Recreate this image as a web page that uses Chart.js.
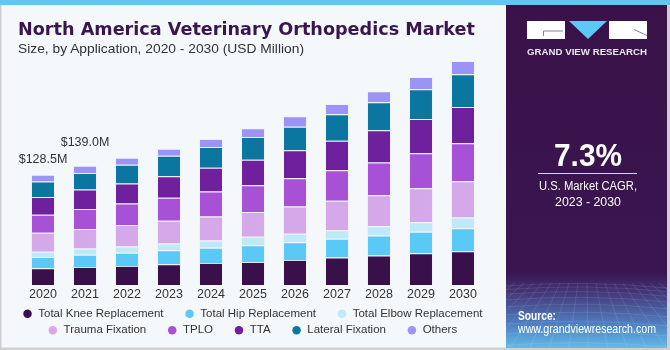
<!DOCTYPE html>
<html>
<head>
<meta charset="utf-8">
<script src="https://cdn.jsdelivr.net/npm/chart.js@4.4.1/dist/chart.umd.min.js"></script>
<style>
  html, body { margin: 0; padding: 0; }
  body { width: 670px; height: 350px; position: relative; overflow: hidden; background: #f4f8fb; font-family: "Liberation Sans", Arial, sans-serif; }
  #chartBox { position: absolute; left: 0; top: 0; width: 505px; height: 350px; }
  #deco { position: absolute; left: 0; top: 0; pointer-events: none; }
</style>
</head>
<body>
<div id="chartBox"><canvas id="c" width="505" height="350"></canvas></div>
<svg id="deco" width="670" height="350" xmlns="http://www.w3.org/2000/svg">
  <defs>
    <linearGradient id="pg" x1="0" y1="0" x2="0" y2="1">
      <stop offset="0" stop-color="#3a1249"/>
      <stop offset="0.78" stop-color="#3a1550"/>
      <stop offset="0.84" stop-color="#43387a"/>
      <stop offset="0.93" stop-color="#4f7fbf"/>
      <stop offset="1" stop-color="#62bbe8"/>
    </linearGradient>
    <clipPath id="pc"><rect x="506" y="5" width="161" height="343"/></clipPath>
  </defs>
  <rect x="0" y="0" width="670" height="5" fill="#62c6ee"/>
  <rect x="0" y="5" width="1.5" height="345" fill="#cfcfcf"/>
  <rect x="0" y="347.5" width="670" height="2.5" fill="#cfcfcf"/>
  <rect x="506" y="5" width="161" height="343" fill="url(#pg)"/>
  <rect x="667" y="5" width="3" height="345" fill="#cfcfcf"/>
  <g clip-path="url(#pc)" stroke="#ffffff" stroke-opacity="0.13" stroke-width="0.8" fill="none" id="gridTex"></g>
  <text x="18" y="35" font-family="DejaVu Sans, sans-serif" font-weight="bold" font-size="17.5" fill="#3a1650" textLength="457" lengthAdjust="spacingAndGlyphs">North America Veterinary Orthopedics Market</text>
  <text x="18" y="53" font-family="Liberation Sans, Arial, sans-serif" font-size="13" fill="#333333" textLength="286" lengthAdjust="spacingAndGlyphs">Size, by Application, 2020 - 2030 (USD Million)</text>
  <rect x="527" y="21" width="38" height="18" fill="#ffffff"/>
  <polyline points="563,31 543.5,31 543.5,36" stroke="#8a7d98" stroke-width="1" fill="none"/>
  <polygon points="569,21 607,21 588,39" fill="#5bc8f5"/>
  <rect x="609" y="21" width="38" height="18" fill="#ffffff"/>
  <line x1="634" y1="29.5" x2="647" y2="35.5" stroke="#8a7d98" stroke-width="1"/>
  <text x="587" y="54.5" text-anchor="middle" font-family="Liberation Sans, Arial, sans-serif" font-weight="bold" font-size="9" fill="#ece8f0" textLength="120" lengthAdjust="spacingAndGlyphs">GRAND VIEW RESEARCH</text>
  <text x="588" y="166" text-anchor="middle" font-family="Liberation Sans, Arial, sans-serif" font-weight="bold" font-size="30.5" fill="#ffffff" textLength="68" lengthAdjust="spacingAndGlyphs">7.3%</text>
  <line x1="538" y1="173.5" x2="637" y2="173.5" stroke="#d8d2de" stroke-width="1"/>
  <text x="588" y="190" text-anchor="middle" font-family="Liberation Sans, Arial, sans-serif" font-size="12.5" fill="#ffffff" textLength="98" lengthAdjust="spacingAndGlyphs">U.S. Market CAGR,</text>
  <text x="588" y="205.5" text-anchor="middle" font-family="Liberation Sans, Arial, sans-serif" font-size="12.5" fill="#ffffff" textLength="66" lengthAdjust="spacingAndGlyphs">2023 - 2030</text>
  <text x="518" y="320" font-family="Liberation Sans, Arial, sans-serif" font-weight="bold" font-size="12" fill="#ffffff" textLength="38" lengthAdjust="spacingAndGlyphs">Source:</text>
  <text x="518" y="333" font-family="Liberation Sans, Arial, sans-serif" font-size="12" fill="#ffffff" textLength="138" lengthAdjust="spacingAndGlyphs">www.grandviewresearch.com</text>
</svg>
<script>
// ---- data (USD Million) ----
const categories = ['2020','2021','2022','2023','2024','2025','2026','2027','2028','2029','2030'];
const totalKneeReplacement  = [19.5, 21.1, 22.3, 24.2, 25.8, 26.9, 29.3, 32.0, 34.3, 37.0, 39.4];
const totalHipReplacement   = [13.2, 14.1, 15.2, 16.4, 17.6, 19.6, 20.7, 21.9, 23.4, 25.1, 26.9];
const totalElbowReplacement = [6.2, 7.4, 7.4, 7.7, 8.6, 9.7, 9.7, 10.1, 10.9, 11.2, 12.5];
const traumaFixation        = [22.1, 22.7, 25.1, 26.6, 27.8, 28.9, 32.0, 34.4, 36.0, 39.5, 42.2];
const tplo                  = [21.1, 23.4, 25.0, 26.9, 29.3, 31.2, 32.8, 35.5, 38.3, 41.0, 44.5];
const tta                   = [20.7, 22.7, 23.4, 25.0, 27.8, 29.8, 32.8, 34.3, 37.5, 39.8, 42.2];
const lateralFixation       = [17.9, 19.4, 21.9, 23.9, 24.1, 26.5, 27.4, 30.9, 32.8, 34.8, 38.3];
const others                = [7.8, 8.2, 8.2, 8.2, 9.4, 10.2, 12.1, 12.1, 12.9, 14.4, 15.2];
const totalLabels = ['$128.5M', '$139.0M', null, null, null, null, null, null, null, null, null];
const seriesNames = ['Total Knee Replacement','Total Hip Replacement','Total Elbow Replacement','Trauma Fixation','TPLO','TTA','Lateral Fixation','Others'];

// ---- styles ----
const seriesColors = ['#39104a','#5bc9f6','#bfe9f9','#d5a8ea','#a651d6','#6f209c','#0b77a0','#9c93f7'];
const FONT = '"Liberation Sans", Arial, sans-serif';

// decorative grid texture in the side panel
(function(){
  const g = document.getElementById('gridTex');
  const ns = 'http://www.w3.org/2000/svg';
  let s = '';
  for (let k = 0; k < 12; k++) {
    const y = 286 + k * k * 0.55 + k * 3;
    s += `<path d="M506 ${y} Q 586 ${y - 6} 667 ${y + 2}"/>`;
  }
  for (let k = -8; k <= 20; k++) {
    const xt = 506 + k * 9;
    const xb = 586 + (xt - 586) * 2.2;
    s += `<line x1="${xt}" y1="283" x2="${xb}" y2="350"/>`;
  }
  g.innerHTML = s;
})();

const seriesData = [totalKneeReplacement, totalHipReplacement, totalElbowReplacement, traumaFixation, tplo, tta, lateralFixation, others];

const totalLabelPlugin = {
  id: 'totalLabels',
  afterDatasetsDraw(chart, args, opts) {
    const {ctx, scales} = chart;
    ctx.save();
    ctx.font = '12.5px ' + FONT;
    ctx.fillStyle = '#333333';
    ctx.textAlign = 'center';
    ctx.textBaseline = 'middle';
    totalLabels.forEach((txt, i) => {
      if (!txt) return;
      const total = chart.data.datasets.reduce((s, d) => s + d.data[i], 0);
      ctx.fillText(txt, scales.x.getPixelForValue(i), scales.y.getPixelForValue(total) - opts.lift[i]);
    });
    ctx.restore();
  }
};

const rowEnds = [2, 7];

new Chart(document.getElementById('c'), {
  type: 'bar',
  data: {
    labels: categories,
    datasets: seriesNames.map((name, i) => ({
      label: name,
      data: seriesData[i],
      backgroundColor: seriesColors[i],
      borderColor: 'rgba(235,235,248,0.45)',
      borderWidth: 1,
      barPercentage: 0.571,
      categoryPercentage: 1.0
    }))
  },
  options: {
    responsive: false,
    animation: false,
    devicePixelRatio: 1,
    layout: { padding: { top: 45, bottom: 4, left: 0, right: 0 } },
    scales: {
      x: {
        stacked: true,
        grid: { display: false, drawTicks: false },
        border: { display: false },
        ticks: { color: '#333333', font: { family: FONT, size: 12.5 }, padding: 2 },
        afterFit: s => { s.height = 18; }
      },
      y: {
        stacked: true,
        min: 0, max: 280,
        position: 'left',
        grid: { display: false, drawTicks: false },
        border: { display: false },
        ticks: { display: false },
        afterFit: s => { s.width = 22; }
      },
      yRight: {
        type: 'linear',
        position: 'right',
        grid: { display: false, drawTicks: false },
        border: { display: false },
        ticks: { display: false },
        afterFit: s => { s.width = 21; }
      }
    },
    plugins: {
      tooltip: { enabled: false },
      totalLabels: { lift: [15, 23] },
      legend: {
        position: 'bottom',
        labels: {
          usePointStyle: true,
          pointStyle: 'circle',
          boxWidth: 10,
          boxHeight: 6,
          padding: 5,
          color: '#333333',
          font: { family: FONT, size: 11.5 },
          generateLabels(chart) {
            const items = Chart.defaults.plugins.legend.labels.generateLabels(chart);
            items.forEach((it, i) => {
              it.lineWidth = 0;
              it.strokeStyle = 'rgba(0,0,0,0)';
              it.fillStyle = seriesColors[i];
              if (!rowEnds.includes(i)) it.text = it.text + '     ';
            });
            return items;
          }
        }
      }
    }
  },
  plugins: [totalLabelPlugin]
});
</script>
</body>
</html>
